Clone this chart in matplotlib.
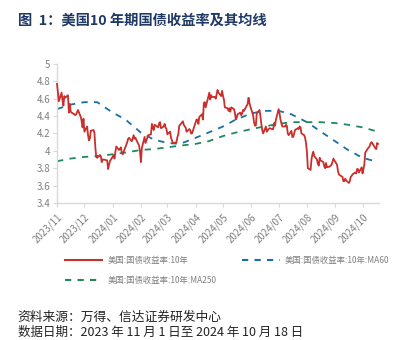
import numpy as np
import pandas as pd
import matplotlib
matplotlib.use('Agg')
import matplotlib.pyplot as plt
import matplotlib.dates as mdates
from matplotlib.lines import Line2D

plt.rcParams['font.family'] = ['Noto Sans CJK SC', 'DejaVu Sans']

# US 10y treasury yield, daily close, 2023-11-01 .. 2024-10-18
yield_dates = [
    '2023-11-01', '2023-11-02', '2023-11-03', '2023-11-06', '2023-11-07', '2023-11-08', '2023-11-09',
    '2023-11-10', '2023-11-13', '2023-11-14', '2023-11-15', '2023-11-16', '2023-11-17', '2023-11-20',
    '2023-11-21', '2023-11-22', '2023-11-24', '2023-11-27', '2023-11-28', '2023-11-29', '2023-11-30',
    '2023-12-01', '2023-12-04', '2023-12-05', '2023-12-06', '2023-12-07', '2023-12-08', '2023-12-11',
    '2023-12-12', '2023-12-13', '2023-12-14', '2023-12-15', '2023-12-18', '2023-12-19', '2023-12-20',
    '2023-12-21', '2023-12-22', '2023-12-26', '2023-12-27', '2023-12-28', '2023-12-29',
    '2024-01-02', '2024-01-03', '2024-01-04', '2024-01-05', '2024-01-08', '2024-01-09', '2024-01-10',
    '2024-01-11', '2024-01-12', '2024-01-16', '2024-01-17', '2024-01-18', '2024-01-19', '2024-01-22',
    '2024-01-23', '2024-01-24', '2024-01-25', '2024-01-26', '2024-01-29', '2024-01-30', '2024-01-31',
    '2024-02-01', '2024-02-02', '2024-02-05', '2024-02-06', '2024-02-07', '2024-02-08', '2024-02-09',
    '2024-02-12', '2024-02-13', '2024-02-14', '2024-02-15', '2024-02-16', '2024-02-20', '2024-02-21',
    '2024-02-22', '2024-02-23', '2024-02-26', '2024-02-27', '2024-02-28', '2024-02-29',
    '2024-03-01', '2024-03-04', '2024-03-05', '2024-03-06', '2024-03-07', '2024-03-08', '2024-03-11',
    '2024-03-12', '2024-03-13', '2024-03-14', '2024-03-15', '2024-03-18', '2024-03-19', '2024-03-20',
    '2024-03-21', '2024-03-22', '2024-03-25', '2024-03-26', '2024-03-27', '2024-03-28',
    '2024-04-01', '2024-04-02', '2024-04-03', '2024-04-04', '2024-04-05', '2024-04-08', '2024-04-09',
    '2024-04-10', '2024-04-11', '2024-04-12', '2024-04-15', '2024-04-16', '2024-04-17', '2024-04-18',
    '2024-04-19', '2024-04-22', '2024-04-23', '2024-04-24', '2024-04-25', '2024-04-26', '2024-04-29',
    '2024-04-30',
    '2024-05-01', '2024-05-02', '2024-05-03', '2024-05-06', '2024-05-07', '2024-05-08', '2024-05-09',
    '2024-05-10', '2024-05-13', '2024-05-14', '2024-05-15', '2024-05-16', '2024-05-17', '2024-05-20',
    '2024-05-21', '2024-05-22', '2024-05-23', '2024-05-24', '2024-05-28', '2024-05-29', '2024-05-30',
    '2024-05-31',
    '2024-06-03', '2024-06-04', '2024-06-05', '2024-06-06', '2024-06-07', '2024-06-10', '2024-06-11',
    '2024-06-12', '2024-06-13', '2024-06-14', '2024-06-17', '2024-06-18', '2024-06-20', '2024-06-21',
    '2024-06-24', '2024-06-25', '2024-06-26', '2024-06-27', '2024-06-28',
    '2024-07-01', '2024-07-02', '2024-07-03', '2024-07-05', '2024-07-08', '2024-07-09', '2024-07-10',
    '2024-07-11', '2024-07-12', '2024-07-15', '2024-07-16', '2024-07-17', '2024-07-18', '2024-07-19',
    '2024-07-22', '2024-07-23', '2024-07-24', '2024-07-25', '2024-07-26', '2024-07-29', '2024-07-30',
    '2024-07-31',
    '2024-08-01', '2024-08-02', '2024-08-05', '2024-08-06', '2024-08-07', '2024-08-08', '2024-08-09',
    '2024-08-12', '2024-08-13', '2024-08-14', '2024-08-15', '2024-08-16', '2024-08-19', '2024-08-20',
    '2024-08-21', '2024-08-22', '2024-08-23', '2024-08-26', '2024-08-27', '2024-08-28', '2024-08-29',
    '2024-08-30',
    '2024-09-03', '2024-09-04', '2024-09-05', '2024-09-06', '2024-09-09', '2024-09-10', '2024-09-11',
    '2024-09-12', '2024-09-13', '2024-09-16', '2024-09-17', '2024-09-18', '2024-09-19', '2024-09-20',
    '2024-09-23', '2024-09-24', '2024-09-25', '2024-09-26', '2024-09-27', '2024-09-30',
    '2024-10-01', '2024-10-02', '2024-10-03', '2024-10-04', '2024-10-07', '2024-10-08', '2024-10-09',
    '2024-10-10', '2024-10-11', '2024-10-15', '2024-10-16', '2024-10-17', '2024-10-18',
]
yield_10y = [
    4.77, 4.67, 4.57, 4.67, 4.58, 4.52, 4.63, 4.61, 4.64, 4.44, 4.54, 4.45, 4.44, 4.42,
    4.41, 4.42, 4.47, 4.39, 4.34, 4.27, 4.37,
    4.22, 4.28, 4.18, 4.12, 4.14, 4.23, 4.24, 4.21, 4.04, 3.93, 3.92, 3.95, 3.94, 3.87,
    3.90, 3.90, 3.89, 3.79, 3.84, 3.88,
    3.95, 3.91, 3.99, 4.05, 4.01, 4.02, 4.04, 3.98, 3.96, 4.07, 4.10, 4.14, 4.15, 4.11,
    4.14, 4.18, 4.14, 4.15, 4.08, 4.06, 3.99,
    3.87, 4.03, 4.16, 4.09, 4.12, 4.15, 4.18, 4.19, 4.31, 4.27, 4.24, 4.30, 4.27, 4.32,
    4.33, 4.26, 4.28, 4.31, 4.27, 4.25,
    4.19, 4.22, 4.15, 4.12, 4.09, 4.09, 4.10, 4.16, 4.19, 4.29, 4.30, 4.34, 4.30, 4.28,
    4.27, 4.22, 4.25, 4.24, 4.20, 4.20,
    4.33, 4.36, 4.36, 4.31, 4.39, 4.42, 4.36, 4.55, 4.56, 4.50, 4.63, 4.67, 4.59, 4.64,
    4.62, 4.62, 4.60, 4.65, 4.70, 4.67, 4.63, 4.69,
    4.63, 4.59, 4.50, 4.49, 4.46, 4.49, 4.45, 4.50, 4.48, 4.44, 4.36, 4.38, 4.42, 4.44,
    4.41, 4.43, 4.47, 4.46, 4.54, 4.61, 4.55, 4.51,
    4.41, 4.33, 4.29, 4.29, 4.43, 4.47, 4.40, 4.31, 4.24, 4.20, 4.28, 4.22, 4.25, 4.26,
    4.25, 4.25, 4.32, 4.29, 4.36,
    4.48, 4.43, 4.36, 4.28, 4.28, 4.30, 4.29, 4.20, 4.18, 4.23, 4.16, 4.16, 4.20, 4.24,
    4.26, 4.25, 4.28, 4.27, 4.20, 4.18, 4.15, 4.09,
    3.99, 3.80, 3.78, 3.90, 3.96, 3.99, 3.94, 3.90, 3.85, 3.83, 3.92, 3.89, 3.87, 3.82,
    3.80, 3.86, 3.81, 3.82, 3.83, 3.84, 3.87, 3.91,
    3.84, 3.77, 3.73, 3.72, 3.70, 3.65, 3.65, 3.68, 3.66, 3.63, 3.65, 3.70, 3.71, 3.73,
    3.75, 3.74, 3.79, 3.79, 3.75, 3.81,
    3.74, 3.79, 3.85, 3.98, 4.03, 4.04, 4.06, 4.09, 4.10, 4.03, 4.02, 4.09, 4.08,
]

# moving averages, read at roughly half-month steps
ma_dates = [
    '2023-11-01', '2023-11-15', '2023-12-01', '2023-12-15', '2024-01-01', '2024-01-15',
    '2024-02-01', '2024-02-15', '2024-03-01', '2024-03-15', '2024-04-01', '2024-04-15',
    '2024-05-01', '2024-05-15', '2024-06-01', '2024-06-15', '2024-07-01', '2024-07-15',
    '2024-08-01', '2024-08-15', '2024-09-01', '2024-09-15', '2024-10-01', '2024-10-18',
]
ma60 = [
    4.48, 4.53, 4.56, 4.56, 4.44, 4.36, 4.21, 4.13, 4.09, 4.08, 4.15, 4.21,
    4.28, 4.36, 4.43, 4.46, 4.46, 4.42, 4.33, 4.23, 4.11, 4.01, 3.92, 3.87,
]
ma250 = [
    3.88, 3.91, 3.93, 3.94, 3.96, 3.98, 4.01, 4.02, 4.04, 4.06, 4.08, 4.11,
    4.17, 4.21, 4.25, 4.28, 4.31, 4.33, 4.33, 4.33, 4.32, 4.30, 4.27, 4.22,
]

labels = ['美国:国债收益率:10年', '美国:国债收益率:10年:MA60', '美国:国债收益率:10年:MA250']
colors = ['#c9302c', '#1a6fa6', '#1e8a5c']

yd = pd.to_datetime(yield_dates)
md = pd.to_datetime(ma_dates)

fig = plt.figure(figsize=(3.96, 3.40), dpi=100)
ax = fig.add_axes([0.144, 0.403, 0.813, 0.409])

ax.plot(yd, yield_10y, color=colors[0], lw=1.3, clip_on=False, zorder=3)
ax.plot(md, ma60, color=colors[1], lw=1.3, dashes=(3.5, 3.5))
ax.plot(md, ma250, color=colors[2], lw=1.3, dashes=(3.5, 3.5))

ax.set_ylim(3.4, 5.0)
ax.set_yticks(np.arange(3.4, 5.01, 0.2))
ax.set_yticklabels(['3.4', '3.6', '3.8', '4', '4.2', '4.4', '4.6', '4.8', '5'])
ax.set_xlim(pd.Timestamp('2023-11-01'), pd.Timestamp('2024-10-19'))
ax.xaxis.set_major_locator(mdates.MonthLocator())
ax.xaxis.set_major_formatter(mdates.DateFormatter('%Y/%m'))

for s in ['top', 'right']:
    ax.spines[s].set_visible(False)
for s in ['left', 'bottom']:
    ax.spines[s].set_color('#d9d9d9')
    ax.spines[s].set_linewidth(1.0)
ax.tick_params(axis='both', colors='#d9d9d9', labelcolor='#7f7f7f', labelsize=7, length=3, width=0.8)
ax.tick_params(axis='y', pad=2)
for lab in ax.get_xticklabels():
    lab.set_rotation(45)
    lab.set_ha('right')
    lab.set_rotation_mode('anchor')

# legend, two rows
handles = [
    Line2D([], [], color=colors[0], lw=1.5),
    Line2D([], [], color=colors[1], lw=1.5, dashes=(3, 3)),
    Line2D([], [], color=colors[2], lw=1.5, dashes=(3, 3)),
]
fig.legend(handles[:2], labels[:2], loc='center left', bbox_to_anchor=(0.145, 0.235), ncol=2,
           frameon=False, fontsize=6, labelcolor='#7f7f7f', handlelength=4.5,
           columnspacing=6.5, handletextpad=0.6)
fig.legend(handles[2:], labels[2:], loc='center left', bbox_to_anchor=(0.145, 0.176),
           frameon=False, fontsize=6, labelcolor='#7f7f7f', handlelength=4.5, handletextpad=0.6)

fig.text(0.045, 0.94, '图  1：美国10 年期国债收益率及其均线', fontsize=10.3, fontweight='bold',
         color='#1f3864', va='center')
fig.text(0.045, 0.068, '资料来源：万得、信达证券研发中心', fontsize=9.2, color='#222222', va='center')
fig.text(0.045, 0.022, '数据日期：2023 年 11 月 1 日至 2024 年 10 月 18 日', fontsize=9,
         color='#222222', va='center')

fig.savefig('out.png', dpi=100)
